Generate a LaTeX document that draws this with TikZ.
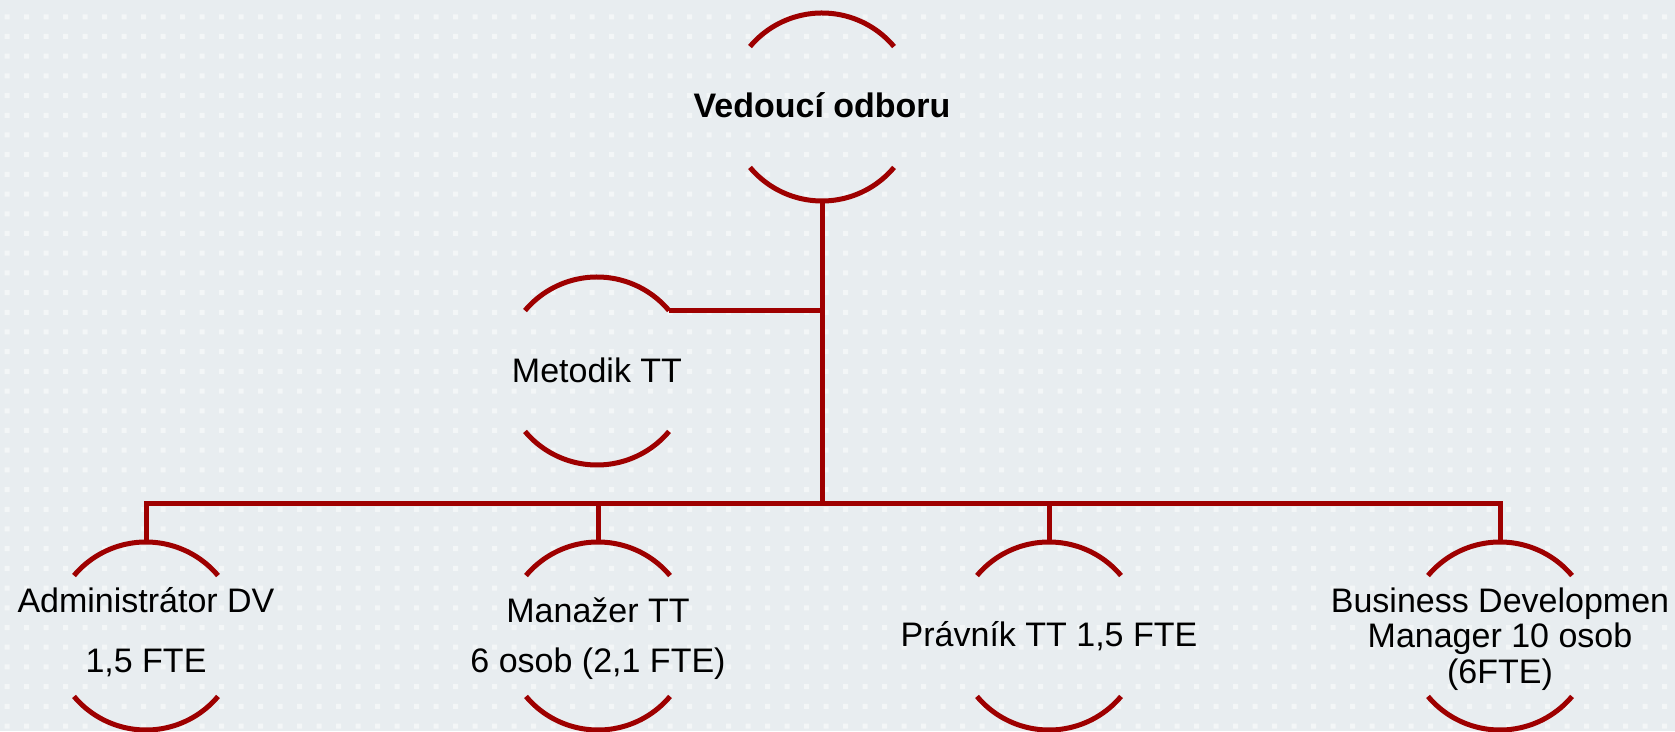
\documentclass[tikz,border=0pt]{standalone}
\usepackage{fontspec}
\setmainfont{Liberation Sans}
\definecolor{bgc}{RGB}{232,237,240}
\definecolor{linered}{RGB}{158,0,0}
\tikzset{
  orgnode/.style={circle,minimum size=188pt,inner sep=0pt,outer sep=0pt,draw=none},
  arcline/.style={draw=linered,line width=5pt},
  conn/.style={draw=linered,line width=5pt,line join=miter},
  lbl/.style={anchor=base,inner sep=0pt,font=\fontsize{34}{36}\selectfont,text=black},
  lblb/.style={lbl,font=\fontsize{34}{36}\selectfont\bfseries}
}
\newcommand{\orgarcs}[1]{%
  \draw[arcline] (#1.40) arc[start angle=40,end angle=140,radius=94pt];
  \draw[arcline] (#1.220) arc[start angle=220,end angle=320,radius=94pt];
}
\begin{document}
\begin{tikzpicture}[x=1pt,y=1pt]
\useasboundingbox (0,0) rectangle (1675,731);
\fill[bgc] (0,0) rectangle (1675,731);
\fill[white,opacity=0.5] \foreach \i in {0,...,85} { \foreach \j in {0,...,36} { (\i*19.5+4.5,\j*19.7+2.5) rectangle ++(5,5) } };

% nodes
\node[orgnode] (top) at (822,624) {};
\node[orgnode] (met) at (597,360) {};
\node[orgnode] (adm) at (146,95) {};
\node[orgnode] (man) at (598,95) {};
\node[orgnode] (pra) at (1049,95) {};
\node[orgnode] (bd)  at (1500,95) {};
\coordinate (bus) at (822,227);

\orgarcs{top}
\orgarcs{met}
\orgarcs{adm}
\orgarcs{man}
\orgarcs{pra}
\orgarcs{bd}

% connectors
\draw[conn] (top.south) -- (bus);
\draw[conn] (met.40) -- (met.40 -| top.south);
\draw[conn] (adm.north) |- (bus) -| (bd.north);
\draw[conn] (man.north) -- (man.north |- bus);
\draw[conn] (pra.north) -- (pra.north |- bus);

% labels
\node[lblb] (topT) at (822,613) {Vedoucí odboru};
\node[lbl] (metT) at (597,348) {Metodik TT};
\node[lbl] (admT1) at (146,119) {Administrátor DV};
\node[lbl] (admT2) at (146,59) {1,5 FTE};
\node[lbl] (manT1) at (598,109) {Manažer TT};
\node[lbl] (manT2) at (598,59) {6 osob (2,1 FTE)};
\node[lbl] (praT) at (1049,85) {Právník TT 1,5 FTE};
\node[lbl] (bdT1) at (1500,119) {Business Developmen};
\node[lbl] (bdT2) at (1500,84) {Manager 10 osob};
\node[lbl] (bdT3) at (1500,48) {(6FTE)};
\end{tikzpicture}
\end{document}
